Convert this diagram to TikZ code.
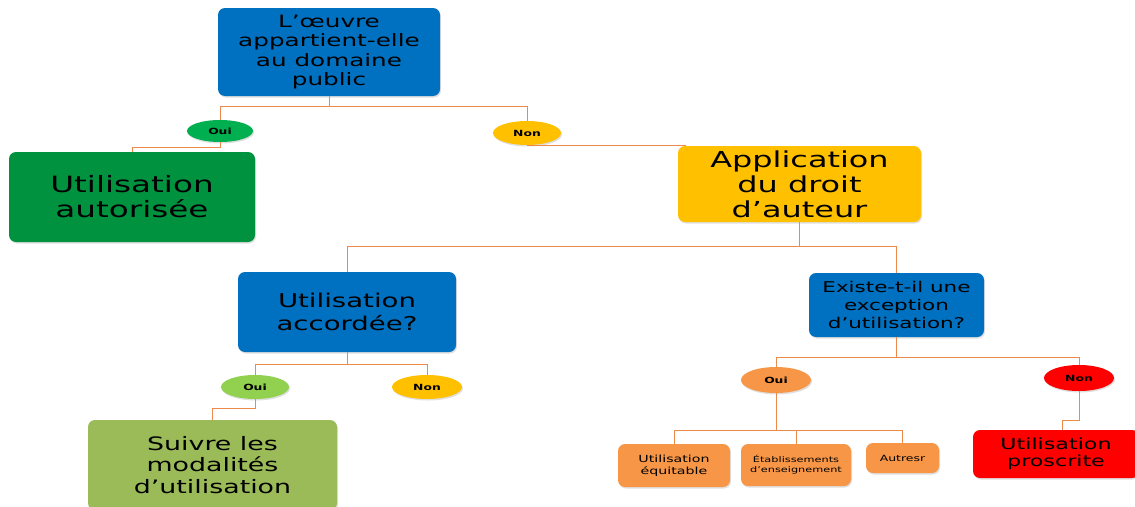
\documentclass[tikz,border=0pt]{standalone}
\usepackage{fontspec}
\setmainfont[FakeStretch=1.45]{DejaVu Sans}
\usetikzlibrary{shapes.geometric,calc,shadows}
\definecolor{cblue}{HTML}{0070C0}
\definecolor{cdgreen}{HTML}{00923F}
\definecolor{cgreen}{HTML}{00B050}
\definecolor{cgold}{HTML}{FFC000}
\definecolor{clgreen}{HTML}{92D050}
\definecolor{colive}{HTML}{9BBB59}
\definecolor{corange}{HTML}{F79646}
\definecolor{cred}{HTML}{FF0000}
\definecolor{cline}{HTML}{EC8A4C}
\tikzset{
  box/.style={rectangle, rounded corners=7pt, align=center, inner sep=0pt,
    drop shadow={opacity=0.25, shadow xshift=1pt, shadow yshift=-1.5pt}},
  oval/.style={ellipse, inner sep=0pt, font=\bfseries\fontsize{8.5}{10}\selectfont,
    drop shadow={opacity=0.25, shadow xshift=1pt, shadow yshift=-1.5pt}},
  link/.style={draw=cline, line width=1pt},
}
\newcommand{\fs}[2]{\fontsize{#1}{#2}\selectfont}
\begin{document}
\begin{tikzpicture}[x=1pt,y=-1pt]
\useasboundingbox (0,0) rectangle (1135,506);
\clip (0,0) rectangle (1135,506);
% boxes
\node[box, fill=cblue, minimum width=222, minimum height=88, font=\fs{17}{19.5}] (top) at (329,52)
  {L’œuvre\\appartient-elle\\au domaine\\public};
\node[box, fill=cdgreen, minimum width=246, minimum height=90, font=\fs{22.5}{25}] (auto) at (132,197)
  {Utilisation\\autorisée};
\node[box, fill=cgold, minimum width=243, minimum height=76, font=\fs{22}{25}] (app) at (799.5,184)
  {Application\\du droit\\d’auteur};
\node[box, fill=cblue, minimum width=218, minimum height=80, font=\fs{19}{23}] (acc) at (347,312)
  {Utilisation\\accordée?};
\node[box, fill=colive, minimum width=249, minimum height=90, font=\fs{18.5}{21.5}] (suiv) at (212.5,465)
  {Suivre les\\modalités\\d’utilisation};
\node[box, fill=cblue, minimum width=175, minimum height=64, font=\fs{14.8}{18}] (exc) at (896.5,305)
  {Existe-t-il une\\exception\\d’utilisation?};
\node[box, fill=cred, minimum width=166, minimum height=48, font=\fs{15.3}{17}] (pros) at (1056,454)
  {Utilisation\\proscrite};
\node[box, fill=corange, minimum width=112, minimum height=43, font=\fs{9.8}{12}] (equi) at (674,465.5)
  {Utilisation\\équitable};
\node[box, fill=corange, minimum width=110, minimum height=42, font=\fs{7.8}{10}] (etab) at (796,465)
  {Établissements\\d’enseignement};
\node[box, fill=corange, minimum width=73, minimum height=30, font=\fs{8.6}{10}] (autr) at (902.5,458)
  {Autresr};
% ellipses
\node[oval, fill=cgreen, minimum width=66, minimum height=22] (oui1) at (220,131) {Oui};
\node[oval, fill=cgold, minimum width=68, minimum height=24] (non1) at (527,133) {Non};
\node[oval, fill=clgreen, minimum width=68, minimum height=24] (oui2) at (255,387) {Oui};
\node[oval, fill=cgold, minimum width=70, minimum height=24] (non2) at (427,387) {Non};
\node[oval, fill=corange, minimum width=70, minimum height=26] (oui3) at (776,380) {Oui};
\node[oval, fill=cred, minimum width=70, minimum height=26] (non3) at (1079,378) {Non};
% connectors
\draw[link] (top.south) -- ++(0,10) -| (oui1.north);
\draw[link] (top.south) -- ++(0,10) -| (non1.north);
\draw[link] (oui1.south) -- ++(0,5) -| (auto.north);
\draw[link] (non1.south) -- (non1.south |- app.north) -- ($(app.north west)+(8,0)$);
\draw[link] (app.south) -- ++(0,24) -| (acc.north);
\draw[link] (app.south) -- ++(0,24) -| (exc.north);
\draw[link] (acc.south) -- ++(0,12) -| (oui2.north);
\draw[link] (acc.south) -- ++(0,12) -| (non2.north);
\draw[link] (oui2.south) -- ++(0,9) -| (suiv.north);
\draw[link] (exc.south) -- ++(0,20) -| (oui3.north);
\draw[link] (exc.south) -- ++(0,20) -| (non3.north);
\draw[link] (oui3.south) -- ++(0,37) -| (equi.north);
\draw[link] (oui3.south) -- ++(0,37) -| (etab.north);
\draw[link] (oui3.south) -- ++(0,37) -| (autr.north);
\draw[link] (non3.south) -- ++(0,29) -| ($(pros.north)+(6,0)$);
\end{tikzpicture}
\end{document}
